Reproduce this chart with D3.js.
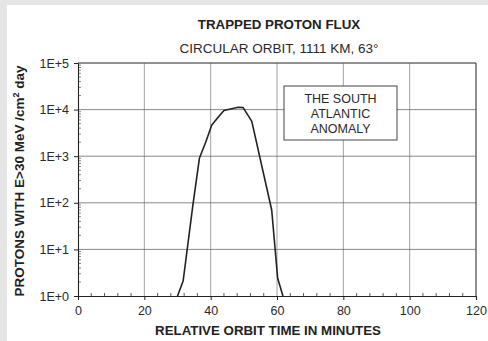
<!DOCTYPE html>
<html><head><meta charset="utf-8">
<script src="https://cdn.jsdelivr.net/npm/d3@7"></script>
<style>
html,body{margin:0;padding:0;background:#fff;}
svg{display:block;font-family:"Liberation Sans",Arial,sans-serif;}
</style></head>
<body>
<svg id="c" width="488" height="341"></svg>
<script>
const times = [30, 31.7, 34.6, 36.6, 38.5, 40.3, 42, 44, 48.3, 49.8, 52.4, 58.4, 60.2, 61.8];
const flux  = [1, 2.1, 85, 900, 2000, 4600, 6500, 9600, 11200, 11000, 5600, 70, 2.4, 1];
const xTicks = [0, 20, 40, 60, 80, 100, 120];
const yTicks = [1, 10, 100, 1000, 10000, 100000];
const yTickLabels = ["1E+0", "1E+1", "1E+2", "1E+3", "1E+4", "1E+5"];
const annotation = ["THE SOUTH", "ATLANTIC", "ANOMALY"];

const svg = d3.select("#c");
// scanned page grey border
svg.append("rect").attr("x",0).attr("y",0).attr("width",488).attr("height",341).attr("fill","#e5e5e5");
svg.append("rect").attr("x",7).attr("y",5).attr("width",481).attr("height",336).attr("fill","#fff");

const L=78, R=476, T=63, B=296;
const x = d3.scaleLinear().domain([0,120]).range([L,R]);
const y = d3.scaleLog().domain([1,1e5]).range([B,T]);

// grid
const g = svg.append("g");
g.selectAll(".vg").data(xTicks.slice(1)).join("line")
  .attr("x1",d=>x(d)).attr("x2",d=>x(d)).attr("y1",T).attr("y2",B)
  .attr("stroke","#8a8a8a").attr("stroke-width",0.8);
g.selectAll(".hg").data(yTicks.slice(1)).join("line")
  .attr("x1",L).attr("x2",R).attr("y1",d=>y(d)).attr("y2",d=>y(d))
  .attr("stroke","#6a6a6a").attr("stroke-width",0.8);

// y minor ticks (inside)
const yMinor = [];
for (let e=0;e<5;e++) for (let m=2;m<=9;m++) yMinor.push(m*Math.pow(10,e));
g.selectAll(".ym").data(yMinor).join("line")
  .attr("x1",L).attr("x2",L+3).attr("y1",d=>y(d)).attr("y2",d=>y(d))
  .attr("stroke","#555").attr("stroke-width",0.7);
// x minor ticks (inside)
const xMinor = d3.range(0,121,4).filter(v=>v%20!==0);
g.selectAll(".xm").data(xMinor).join("line")
  .attr("x1",d=>x(d)).attr("x2",d=>x(d)).attr("y1",B).attr("y2",B-3)
  .attr("stroke","#333").attr("stroke-width",0.8);

// axes
const yAxis = d3.axisLeft(y).tickValues(yTicks).tickFormat((d,i)=>yTickLabels[i]).tickSize(4).tickPadding(5);
const ya = svg.append("g").attr("transform",`translate(${L},0)`).call(yAxis);
const xAxis = d3.axisBottom(x).tickValues(xTicks).tickSize(4).tickPadding(6);
const xa = svg.append("g").attr("transform",`translate(0,${B})`).call(xAxis);
[ya,xa].forEach(a=>{
  a.select(".domain").attr("stroke","#222").attr("stroke-width",1.1);
  a.selectAll(".tick line").attr("stroke","#222");
  a.selectAll("text").attr("font-family","'Liberation Sans',Arial,sans-serif").attr("font-size",12.5).attr("fill","#2a2a2a");
});
// top/right frame
svg.append("line").attr("x1",L).attr("x2",R).attr("y1",T).attr("y2",T).attr("stroke","#555").attr("stroke-width",0.9);
svg.append("line").attr("x1",R).attr("x2",R).attr("y1",T).attr("y2",B).attr("stroke","#444").attr("stroke-width",0.9);

// data line
const line = d3.line().x(d=>x(d[0])).y(d=>y(d[1]));
svg.append("path").datum(times.map((t,i)=>[t,flux[i]]))
  .attr("d",line).attr("fill","none").attr("stroke","#222").attr("stroke-width",1.6).attr("stroke-linejoin","round");

// annotation box
const bx=284, by=86, bw=113, bh=54;
svg.append("rect").attr("x",bx).attr("y",by).attr("width",bw).attr("height",bh)
  .attr("fill","#fff").attr("stroke","#444").attr("stroke-width",1);
svg.selectAll(".ann").data(annotation).join("text")
  .attr("x",bx+bw/2).attr("y",(d,i)=>103+i*15).attr("text-anchor","middle")
  .attr("font-size",12.5).attr("fill","#2a2a2a").text(d=>d);

// titles
svg.append("text").attr("x",279).attr("y",29).attr("text-anchor","middle")
  .attr("font-weight","bold").attr("font-size",13.3).attr("fill","#222").text("TRAPPED PROTON FLUX");
svg.append("text").attr("x",279).attr("y",53).attr("text-anchor","middle")
  .attr("font-size",13.5).attr("fill","#2a2a2a").text("CIRCULAR ORBIT, 1111 KM, 63°");
svg.append("text").attr("x",268).attr("y",335).attr("text-anchor","middle")
  .attr("font-weight","bold").attr("font-size",13.3).attr("fill","#222").text("RELATIVE ORBIT TIME IN MINUTES");
const yt = svg.append("text").attr("transform","translate(24,181) rotate(-90)").attr("text-anchor","middle")
  .attr("font-weight","bold").attr("font-size",13.5).attr("fill","#222");
yt.append("tspan").text("PROTONS WITH E>30 MeV /cm");
yt.append("tspan").attr("dy",-5).attr("font-size",9).text("2");
yt.append("tspan").attr("dy",5).text(" day");
</script>
</body></html>
